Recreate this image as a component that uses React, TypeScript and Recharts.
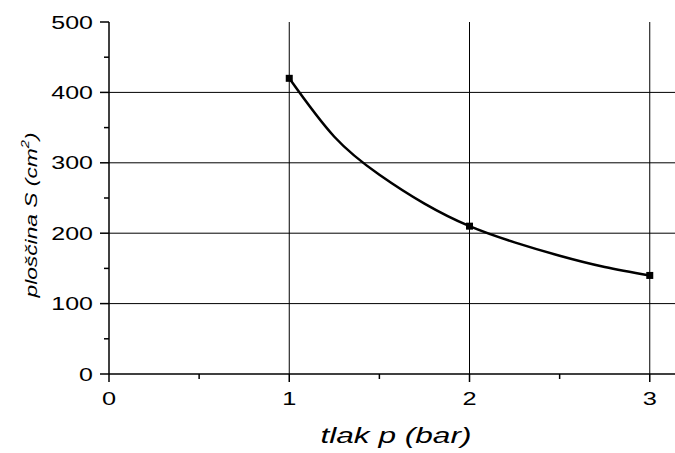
import React from "react";
import { ComposedChart, Line, XAxis, YAxis, ReferenceLine } from "recharts";

// measured points (square markers)
const pressure = [1, 2, 3];
const area = [420, 210, 140];

// smooth curve through the points
const curveP = [1, 1.25, 1.5, 1.75, 2, 2.25, 2.5, 2.75, 3];
const curveS = [420, 337, 283, 242, 210, 187, 168, 152, 140];

const xTicks = [0, 0.5, 1, 1.5, 2, 2.5, 3];
const yTicks = [0, 50, 100, 150, 200, 250, 300, 350, 400, 450, 500];
const gridX = [1, 2, 3];
const gridY = [100, 200, 300, 400];

const points = pressure.map((p, i) => ({ p, s: area[i] }));
const curve = curveP.map((p, i) => ({ p, s: curveS[i] }));

const FONT = "'Liberation Sans', Arial, sans-serif";

function XTick({ x, y, payload }: any) {
  const major = Number.isInteger(payload.value);
  return (
    <g>
      <line x1={x} x2={x} y1={y} y2={y + (major ? 8 : 5)} stroke="#000" strokeWidth={1.5} />
      {major && (
        <text
          transform={`translate(${x},${y + 31}) scale(1.37,1)`}
          textAnchor="middle"
          fontSize={18.5}
          fontFamily={FONT}
          fill="#000"
        >
          {payload.value}
        </text>
      )}
    </g>
  );
}

function YTick({ x, y, payload }: any) {
  const major = payload.value % 100 === 0;
  return (
    <g>
      <line x1={x - (major ? 9 : 5)} x2={x} y1={y} y2={y} stroke="#000" strokeWidth={1.5} />
      {major && (
        <text
          transform={`translate(${x - 16},${y + 6.5}) scale(1.35,1)`}
          textAnchor="end"
          fontSize={18.5}
          fontFamily={FONT}
          fill="#000"
        >
          {payload.value}
        </text>
      )}
    </g>
  );
}

const renderXLabel = () => (
  <text
    transform="translate(396,443) scale(1.47,1)"
    textAnchor="middle"
    fontSize={21.5}
    fontStyle="italic"
    fontFamily={FONT}
    fill="#000"
  >
    tlak p (bar)
  </text>
);

const renderYLabel = () => (
  <text
    transform="translate(37,215) rotate(-90) scale(1.34,1)"
    textAnchor="middle"
    fontSize={17}
    fontStyle="italic"
    fontFamily={FONT}
    fill="#000"
  >
    ploščina S (cm
    <tspan fontSize={11} dy={-8}>2</tspan>
    <tspan dy={8}>)</tspan>
  </text>
);

const Square = ({ cx, cy, index }: any) => (
  <rect key={index} x={cx - 3.5} y={cy - 3.5} width={7} height={7} fill="#000" />
);

export default function App() {
  return (
    <div style={{ position: "absolute", left: 0, top: 0, width: 675, height: 453, background: "#fff" }}>
      <ComposedChart width={675} height={453} margin={{ top: 22, right: 0, bottom: 0, left: 0 }}>
        <XAxis
          type="number"
          dataKey="p"
          domain={[0, 3.14]}
          ticks={xTicks}
          height={79}
          tickSize={0}
          tickMargin={0}
          tickLine={false}
          tick={<XTick />}
          axisLine={{ stroke: "#000", strokeWidth: 1.5 }}
          label={{ content: renderXLabel }}
        />
        <YAxis
          type="number"
          domain={[0, 500]}
          ticks={yTicks}
          width={109}
          tickSize={0}
          tickMargin={0}
          tickLine={false}
          tick={<YTick />}
          axisLine={{ stroke: "#000", strokeWidth: 1.5 }}
          label={{ content: renderYLabel }}
        />
        {gridX.map((v) => (
          <ReferenceLine key={`gx${v}`} x={v} stroke="#000" strokeWidth={1} />
        ))}
        {gridY.map((v) => (
          <ReferenceLine key={`gy${v}`} y={v} stroke="#000" strokeWidth={1} />
        ))}
        <Line
          data={curve}
          dataKey="s"
          type="natural"
          stroke="#000"
          strokeWidth={2.5}
          dot={false}
          activeDot={false}
          isAnimationActive={false}
        />
        <Line
          data={points}
          dataKey="s"
          stroke="none"
          dot={<Square />}
          activeDot={false}
          isAnimationActive={false}
        />
      </ComposedChart>
    </div>
  );
}
